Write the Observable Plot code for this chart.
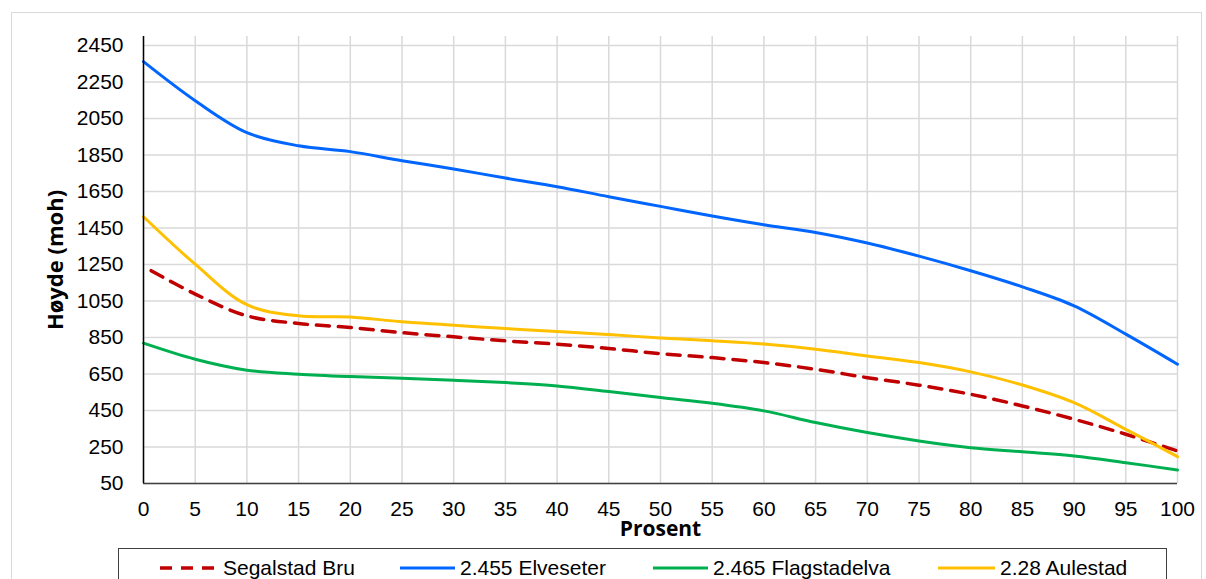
<!DOCTYPE html>
<html>
<head>
<meta charset="utf-8">
<script src="https://cdn.jsdelivr.net/npm/d3@7"></script>
<script src="https://cdn.jsdelivr.net/npm/@observablehq/plot@0.6"></script>
<style>
  html, body { margin: 0; padding: 0; background: #fff; overflow: hidden; }
  body { width: 1206px; height: 579px; position: relative; font-family: "Liberation Sans", Arial, sans-serif; }
  #frame { position: absolute; left: 11px; top: 12px; width: 1191px; height: 620px; border: 1px solid #d9d9d9; box-sizing: border-box; }
  #chart { position: absolute; left: 0; top: 0; }
  #legend { position: absolute; left: 118px; top: 548px; width: 1049px; height: 50px; border: 1px solid #404040; box-sizing: border-box; background: #fff; }
  .item { position: absolute; top: 5px; height: 28px; display: flex; align-items: center; font-size: 21px; color: #000; white-space: nowrap; }
  .item svg { margin-right: 5px; }
</style>
</head>
<body>
<div id="frame"></div>
<div id="chart"></div>
<div id="legend"></div>
<script>
const prosent = [0, 5, 10, 15, 20, 25, 30, 35, 40, 45, 50, 55, 60, 65, 70, 75, 80, 85, 90, 95, 100];
const segalstadBru = [1240, 1088, 969, 927, 905, 877, 854, 832, 814, 790, 762, 740, 713, 676, 630, 589, 539, 475, 402, 320, 228];
const elveseter = [2362, 2148, 1973, 1901, 1869, 1819, 1774, 1724, 1677, 1622, 1569, 1516, 1468, 1426, 1368, 1296, 1216, 1128, 1024, 869, 704];
const flagstadelva = [819, 731, 671, 649, 636, 627, 616, 603, 585, 554, 521, 490, 448, 384, 329, 283, 246, 224, 201, 164, 124];
const aulestad = [1512, 1252, 1030, 969, 963, 936, 918, 899, 883, 866, 848, 832, 814, 786, 749, 713, 662, 590, 493, 347, 197];

const seriesNames = ["Segalstad Bru", "2.455 Elveseter", "2.465 Flagstadelva", "2.28 Aulestad"];
const seriesColors = ["#C00000", "#0066FF", "#00B050", "#FFC000"];
const yTicks = [50, 250, 450, 650, 850, 1050, 1250, 1450, 1650, 1850, 2050, 2250, 2450];
const xTicks = prosent;
const xLabel = "Prosent";
const yLabel = "Høyde (moh)";

const seriesValues = [segalstadBru, elveseter, flagstadelva, aulestad];
const tables = seriesValues.map((vals, i) => prosent.map((p, j) => ({x: p, y: vals[j], s: seriesNames[i]})));

const font = '"Liberation Sans", Arial, sans-serif';

const lineMarks = tables.map((t, i) => Plot.line(t, {
  x: "x", y: "y", stroke: seriesColors[i], strokeWidth: i === 0 ? 3.5 : 3,
  curve: "catmull-rom",
  strokeDasharray: i === 0 ? "13,9" : null,
  strokeDashoffset: i === 0 ? -9 : null
}));
const ordered = [lineMarks[1], lineMarks[2], lineMarks[0], lineMarks[3]];

const chart = Plot.plot({
  width: 1206,
  height: 545,
  marginLeft: 143,
  marginRight: 29,
  marginTop: 36,
  marginBottom: 62,
  style: {fontFamily: font, fontSize: "21px", background: "transparent", color: "#000"},
  x: {domain: [0, 100]},
  y: {domain: [50, 2500]},
  marks: [
    Plot.gridX(xTicks, {stroke: "#d9d9d9", strokeOpacity: 1, strokeWidth: 1.5}),
    Plot.gridY(yTicks, {stroke: "#d9d9d9", strokeOpacity: 1, strokeWidth: 1.5}),
    Plot.axisX(xTicks, {tickSize: 0, tickPadding: 18, label: null, fontSize: 21, fill: "#000", tickFormat: d => String(d)}),
    Plot.axisY(yTicks, {tickSize: 0, tickPadding: 20, label: null, fontSize: 21, fill: "#000", tickFormat: d => String(d)}),
    ...ordered,
    Plot.ruleY([50], {stroke: "#404040", strokeWidth: 1.5}),
    Plot.ruleX([0], {stroke: "#000", strokeWidth: 1.5}),
    Plot.text([xLabel], {frameAnchor: "bottom", lineAnchor: "middle", dy: 46, fontWeight: "bold", fontSize: 21, fontFamily: '"Open Sans", sans-serif', fill: "#000"}),
    Plot.text([yLabel], {frameAnchor: "left", textAnchor: "middle", lineAnchor: "middle", dx: -88, rotate: -90, fontWeight: "bold", fontSize: 22, fontFamily: '"Open Sans", sans-serif', fill: "#000"})
  ]
});
document.getElementById("chart").appendChild(chart);

// legend
const legend = document.getElementById("legend");
const legendLeft = 118;
const itemStarts = [160, 400, 653, 938];
const lineLens = [58, 55, 55, 57];
seriesNames.forEach((name, i) => {
  const div = document.createElement("div");
  div.className = "item";
  div.style.left = (itemStarts[i] - legendLeft - 1) + "px";
  const ns = "http://www.w3.org/2000/svg";
  const svg = document.createElementNS(ns, "svg");
  svg.setAttribute("width", lineLens[i]);
  svg.setAttribute("height", 10);
  const ln = document.createElementNS(ns, "line");
  ln.setAttribute("x1", 0); ln.setAttribute("x2", lineLens[i]);
  ln.setAttribute("y1", 5); ln.setAttribute("y2", 5);
  ln.setAttribute("stroke", seriesColors[i]);
  ln.setAttribute("stroke-width", i === 0 ? 3.5 : 3);
  if (i === 0) ln.setAttribute("stroke-dasharray", "12,9");
  svg.appendChild(ln);
  div.appendChild(svg);
  const span = document.createElement("span");
  span.textContent = name;
  div.appendChild(span);
  legend.appendChild(div);
});
</script>
</body>
</html>
